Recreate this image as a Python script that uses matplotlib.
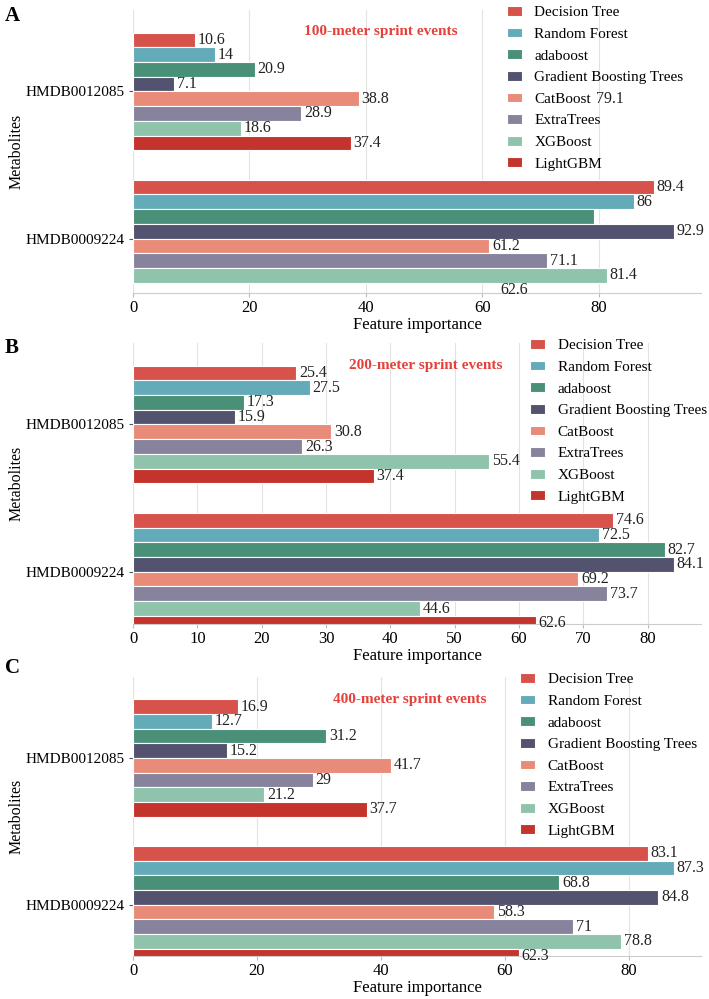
import matplotlib.pyplot as plt
import numpy as np

plt.rcParams['font.family'] = ['Liberation Serif', 'DejaVu Serif']

metabolites = ['HMDB0012085', 'HMDB0009224']
models = ['Decision Tree', 'Random Forest', 'adaboost', 'Gradient Boosting Trees',
          'CatBoost', 'ExtraTrees', 'XGBoost', 'LightGBM']
colors = ['#d6524a', '#63abb8', '#4a9078', '#53526f',
          '#e88b78', '#87839c', '#8fc3ab', '#c4342d']

# feature importance per model, one list per metabolite
sprint100_hmdb12085 = [10.6, 14, 20.9, 7.1, 38.8, 28.9, 18.6, 37.4]
sprint100_hmdb9224 = [89.4, 86, 79.1, 92.9, 61.2, 71.1, 81.4, 62.6]
sprint200_hmdb12085 = [25.4, 27.5, 17.3, 15.9, 30.8, 26.3, 55.4, 37.4]
sprint200_hmdb9224 = [74.6, 72.5, 82.7, 84.1, 69.2, 73.7, 44.6, 62.6]
sprint400_hmdb12085 = [16.9, 12.7, 31.2, 15.2, 41.7, 29, 21.2, 37.7]
sprint400_hmdb9224 = [83.1, 87.3, 68.8, 84.8, 58.3, 71, 78.8, 62.3]

panels = [
    ('A', '100-meter sprint events', sprint100_hmdb12085, sprint100_hmdb9224),
    ('B', '200-meter sprint events', sprint200_hmdb12085, sprint200_hmdb9224),
    ('C', '400-meter sprint events', sprint400_hmdb12085, sprint400_hmdb9224),
]

W, H = 709, 999
fig = plt.figure(figsize=(W / 100, H / 100), dpi=100)

# layout in pixels: (axes top, axes bottom, ylim bottom, legend left, title x, letter y)
layout = [
    (10, 293, 1.37, 507, 381, 16),
    (343, 624, 1.355, 530, 426, 348),
    (677, 956, 1.35, 520, 410, 668),
]

y = np.arange(len(metabolites))
bw = 0.8 / len(models)

for (letter, title, v1, v2), (top, bot, ylo, leg_x, tx, ly) in zip(panels, layout):
    ax = fig.add_axes([133 / W, 1 - bot / H, 568 / W, (bot - top) / H])
    rects = []
    for i, m in enumerate(models):
        pos = y - 0.4 + (i + 0.5) * bw
        bars = ax.barh(pos, [v1[i], v2[i]], height=bw, color=colors[i],
                       edgecolor='white', linewidth=0.8, label=m, zorder=2)
        rects.append(bars)

    # value labels
    for i in range(len(models)):
        for j, b in enumerate(rects[i]):
            w = b.get_width()
            yc = b.get_y() + b.get_height() / 2
            # in panel A one label ended up next to the CatBoost bar of the first group
            if letter == 'A' and i == 2 and j == 1:
                yc = rects[4][0].get_y() + rects[4][0].get_height() / 2
            ax.annotate(f'{w:g}', (w, yc), xytext=(2, 0), textcoords='offset points',
                        va='center', ha='left', fontsize=11.5, color='#222222',
                        annotation_clip=False)

    # the last LightGBM bar is not visible in panel A
    if letter == 'A':
        rects[-1][1].set_visible(False)

    ax.set_ylim(ylo, -0.553)
    ax.set_yticks(y)
    ax.set_yticklabels(metabolites, fontsize=11)
    ax.set_ylabel('Metabolites', fontsize=11.5)
    ax.set_xlabel('Feature importance', fontsize=12, labelpad=1)
    ax.tick_params(axis='x', labelsize=12, length=3, color='#bbbbbb', pad=2)
    ax.tick_params(axis='y', length=3, color='#555555', pad=3)
    ax.grid(axis='x', color='#e2e2e2', linewidth=0.8, zorder=0)
    ax.set_axisbelow(True)
    for s in ['top', 'right', 'left']:
        ax.spines[s].set_visible(False)
    ax.spines['bottom'].set_color('#cccccc')
    ax.yaxis.set_label_coords(-(133 - 25) / 568, 0.5)

    ax.legend(loc='upper left', bbox_to_anchor=((leg_x - 133) / 568, 1 + 4 / (bot - top)),
              frameon=False, prop={'family': 'Liberation Serif', 'size': 11},
              handlelength=1.0, handleheight=0.6, handletextpad=0.8,
              labelspacing=0.55, borderpad=0, borderaxespad=0)

    fig.text(tx / W, 1 - (top + 22) / H, title, color='#e5403a', fontsize=11,
             fontweight='bold', ha='center', va='center')
    fig.text(12 / W, 1 - ly / H, letter, fontsize=15, fontweight='bold', ha='center', va='center')

fig.savefig('out.png', dpi=100)
